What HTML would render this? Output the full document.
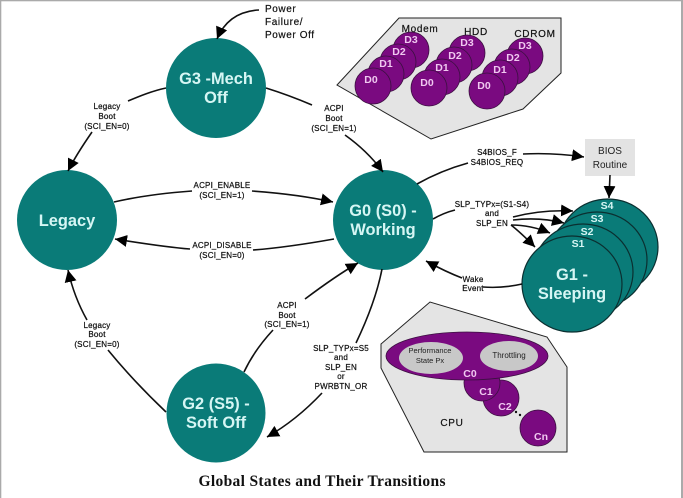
<!DOCTYPE html>
<html>
<head>
<meta charset="utf-8">
<style>
html,body{margin:0;padding:0;background:#fff;width:683px;height:498px;overflow:hidden}
svg{display:block}
text{font-family:"Liberation Sans",sans-serif}
.l{font-size:8px;fill:#111;text-anchor:middle;letter-spacing:.2px;stroke:#111;stroke-width:.22px}
.st{font-size:16.4px;font-weight:bold;fill:#d6f6f4;text-anchor:middle}
.sn{font-size:10.5px;font-weight:bold;fill:#d6f6f4;text-anchor:middle}
.dn{font-size:10.5px;font-weight:bold;fill:#f0c8f0;text-anchor:middle}
.dv{font-size:10px;fill:#111;text-anchor:middle;letter-spacing:.7px;stroke:#111;stroke-width:.2px}
.c{fill:none;stroke:#111;stroke-width:1.6}
.t{fill:#0a7b78}
.o{stroke:#0b2f30;stroke-width:1.2}
.p{fill:#7a0a80;stroke:#3a103f;stroke-width:.8}
</style>
</head>
<body>
<svg width="683" height="498" viewBox="0 0 683 498" xmlns="http://www.w3.org/2000/svg">
<defs>
<marker id="m" markerUnits="userSpaceOnUse" markerWidth="13" markerHeight="13" refX="12" refY="6" orient="auto">
<path d="M0,0 L12,6 L0,12 Z" fill="#000"/>
</marker>
</defs>
<rect width="683" height="498" fill="#fff"/>
<rect x="0" y="0" width="683" height="1.3" fill="#aaa"/>
<rect x="0" y="0" width="1.3" height="498" fill="#aaa"/>
<rect x="681" y="0" width="2" height="498" fill="#aaa"/>

<!-- Device panel -->
<polygon points="337,85 399,18 561,18 561,73 523,109 431,139" fill="#e4e4e4" stroke="#222" stroke-width="1"/>
<g class="p">
<circle cx="411" cy="50" r="18"/><circle cx="398" cy="62" r="18"/><circle cx="386" cy="74" r="18"/><circle cx="373" cy="86" r="18"/>
<circle cx="467" cy="53" r="18"/><circle cx="454" cy="65" r="18"/><circle cx="442" cy="77" r="18"/><circle cx="429" cy="88" r="18"/>
<circle cx="525" cy="56" r="18"/><circle cx="512" cy="67" r="18"/><circle cx="500" cy="78" r="18"/><circle cx="487" cy="91" r="18"/>
</g>
<text class="dv" x="420" y="32">Modem</text>
<text class="dv" x="476" y="35">HDD</text>
<text class="dv" x="535" y="37">CDROM</text>
<text class="dn" x="411" y="43">D3</text><text class="dn" x="399" y="55">D2</text><text class="dn" x="386" y="67">D1</text><text class="dn" x="371" y="83">D0</text>
<text class="dn" x="467" y="46">D3</text><text class="dn" x="455" y="59">D2</text><text class="dn" x="442" y="71">D1</text><text class="dn" x="427" y="86">D0</text>
<text class="dn" x="525" y="49">D3</text><text class="dn" x="513" y="61">D2</text><text class="dn" x="500" y="73">D1</text><text class="dn" x="484" y="89">D0</text>

<!-- CPU panel -->
<polygon points="381,344 430,302 547,337 567,367 567,452 424,452 381,368" fill="#e4e4e4" stroke="#222" stroke-width="1"/>
<circle class="p" cx="501" cy="398" r="18"/>
<circle class="p" cx="482" cy="383" r="18"/>
<ellipse class="p" cx="467" cy="356" rx="81" ry="24"/>
<circle class="p" cx="538" cy="428" r="18"/>
<ellipse cx="431" cy="358" rx="32" ry="16" fill="#c8c8c8"/>
<ellipse cx="509" cy="356" rx="29" ry="15" fill="#c8c8c8"/>
<circle cx="516" cy="412" r="1.2" fill="#111"/><circle cx="520" cy="415" r="1.2" fill="#111"/>
<text x="430" y="353" font-size="7.5" fill="#222" text-anchor="middle">Performance</text>
<text x="430" y="363" font-size="7.5" fill="#222" text-anchor="middle">State Px</text>
<text x="509" y="358" font-size="8" fill="#222" text-anchor="middle">Throttling</text>
<text class="dn" x="470" y="377">C0</text>
<text class="dn" x="486" y="395">C1</text>
<text class="dn" x="505" y="410">C2</text>
<text class="dn" x="541" y="440">Cn</text>
<text class="dv" x="452" y="426">CPU</text>

<!-- Global state circles -->
<circle class="t" cx="216" cy="88" r="50"/>
<circle class="t" cx="67" cy="220" r="50"/>
<circle class="t" cx="383" cy="220" r="50"/>
<circle class="t" cx="216" cy="413" r="49.5"/>

<!-- Sleep stack -->
<ellipse class="t o" cx="608" cy="247" rx="50" ry="48"/>
<ellipse class="t o" cx="597" cy="260" rx="50" ry="48"/>
<ellipse class="t o" cx="583" cy="272" rx="50" ry="48"/>
<ellipse class="t o" cx="572" cy="284" rx="50" ry="48"/>

<text class="st" x="216" y="84">G3 -Mech</text>
<text class="st" x="216" y="103">Off</text>
<text class="st" x="67" y="226">Legacy</text>
<text class="st" x="383" y="216">G0 (S0) -</text>
<text class="st" x="383" y="235">Working</text>
<text class="st" x="216" y="409">G2 (S5) -</text>
<text class="st" x="216" y="428">Soft Off</text>
<text class="st" x="572" y="280">G1 -</text>
<text class="st" x="572" y="299">Sleeping</text>
<text class="sn" x="607" y="209">S4</text>
<text class="sn" x="597" y="222">S3</text>
<text class="sn" x="587" y="235">S2</text>
<text class="sn" x="578" y="247">S1</text>

<!-- BIOS -->
<rect x="585" y="139" width="50" height="37" fill="#e3e3e3"/>
<text x="610" y="154" font-size="10" fill="#222" text-anchor="middle">BIOS</text>
<text x="610" y="168" font-size="10" fill="#222" text-anchor="middle">Routine</text>

<!-- Connectors -->
<path class="c" marker-end="url(#m)" d="M259,10 C240,11 225,20 217,39"/>
<path class="c" d="M166,88 C152,91 140,96 128,101"/>
<path class="c" marker-end="url(#m)" d="M92,132 C83,145 75,157 68,171"/>
<path class="c" d="M266,88 C282,93 298,99 312,105"/>
<path class="c" marker-end="url(#m)" d="M345,135 C359,145 372,157 383,172"/>
<path class="c" d="M114,202 C140,196 165,193 192,191"/>
<path class="c" marker-end="url(#m)" d="M252,191 C280,193 306,196 333,202"/>
<path class="c" d="M334,239 C306,244 280,248 253,250"/>
<path class="c" marker-end="url(#m)" d="M190,249 C165,247 140,243 115,239"/>
<path class="c" d="M166,412 C146,393 126,372 108,350"/>
<path class="c" marker-end="url(#m)" d="M87,320 C78,304 72,288 68,270"/>
<path class="c" d="M244,372 C251,357 261,343 273,330"/>
<path class="c" marker-end="url(#m)" d="M305,299 C321,287 339,274 358,263"/>
<path class="c" d="M382,269 C377,295 367,320 356,343"/>
<path class="c" marker-end="url(#m)" d="M322,393 C306,410 288,425 267,437"/>
<path class="c" d="M417,184 C433,175 450,168 468,163"/>
<path class="c" marker-end="url(#m)" d="M523,154 C544,153 564,154 584,157"/>
<path class="c" marker-end="url(#m)" d="M610,175 L609,198"/>
<path class="c" d="M433,219 C440,215 447,212 455,210"/>
<path class="c" marker-end="url(#m)" d="M513,217 C532,212 552,210 573,211"/>
<path class="c" marker-end="url(#m)" d="M513,220 C530,218 548,219 564,223"/>
<path class="c" marker-end="url(#m)" d="M511,225 C525,225 538,228 550,233"/>
<path class="c" marker-end="url(#m)" d="M511,225 C520,232 528,240 535,247"/>
<path class="c" d="M522,284 C509,287 496,288 483,287"/>
<path class="c" marker-end="url(#m)" d="M462,278 C449,273 437,267 426,261"/>

<!-- Power label -->
<g font-size="10" fill="#111" letter-spacing=".6" stroke="#111" stroke-width=".2">
<text x="265" y="12">Power</text>
<text x="265" y="25">Failure/</text>
<text x="265" y="38">Power Off</text>
</g>

<!-- Labels -->
<g>
<text class="l" x="107" y="109">Legacy</text><text class="l" x="107" y="119">Boot</text><text class="l" x="107" y="129">(SCI_EN=0)</text>
<text class="l" x="334" y="111">ACPI</text><text class="l" x="334" y="121">Boot</text><text class="l" x="334" y="131">(SCI_EN=1)</text>
<text class="l" x="222" y="188">ACPI_ENABLE</text><text class="l" x="222" y="198">(SCI_EN=1)</text>
<text class="l" x="222" y="248">ACPI_DISABLE</text><text class="l" x="222" y="258">(SCI_EN=0)</text>
<text class="l" x="97" y="328">Legacy</text><text class="l" x="97" y="337">Boot</text><text class="l" x="97" y="347">(SCI_EN=0)</text>
<text class="l" x="287" y="308">ACPI</text><text class="l" x="287" y="318">Boot</text><text class="l" x="287" y="327">(SCI_EN=1)</text>
<text class="l" x="341" y="351">SLP_TYPx=S5</text><text class="l" x="341" y="360">and</text><text class="l" x="341" y="370">SLP_EN</text><text class="l" x="341" y="379">or</text><text class="l" x="341" y="389">PWRBTN_OR</text>
<text class="l" x="497" y="155">S4BIOS_F</text><text class="l" x="497" y="165">S4BIOS_REQ</text>
<text class="l" x="492" y="207">SLP_TYPx=(S1-S4)</text><text class="l" x="492" y="216">and</text><text class="l" x="492" y="226">SLP_EN</text>
<text class="l" x="473" y="282">Wake</text><text class="l" x="473" y="291">Event</text>
</g>

<text x="322" y="486" text-anchor="middle" textLength="247" lengthAdjust="spacing" style="font-family:'Liberation Serif',serif;font-weight:bold;font-size:15.5px;fill:#111">Global States and Their Transitions</text>
</svg>
</body>
</html>
